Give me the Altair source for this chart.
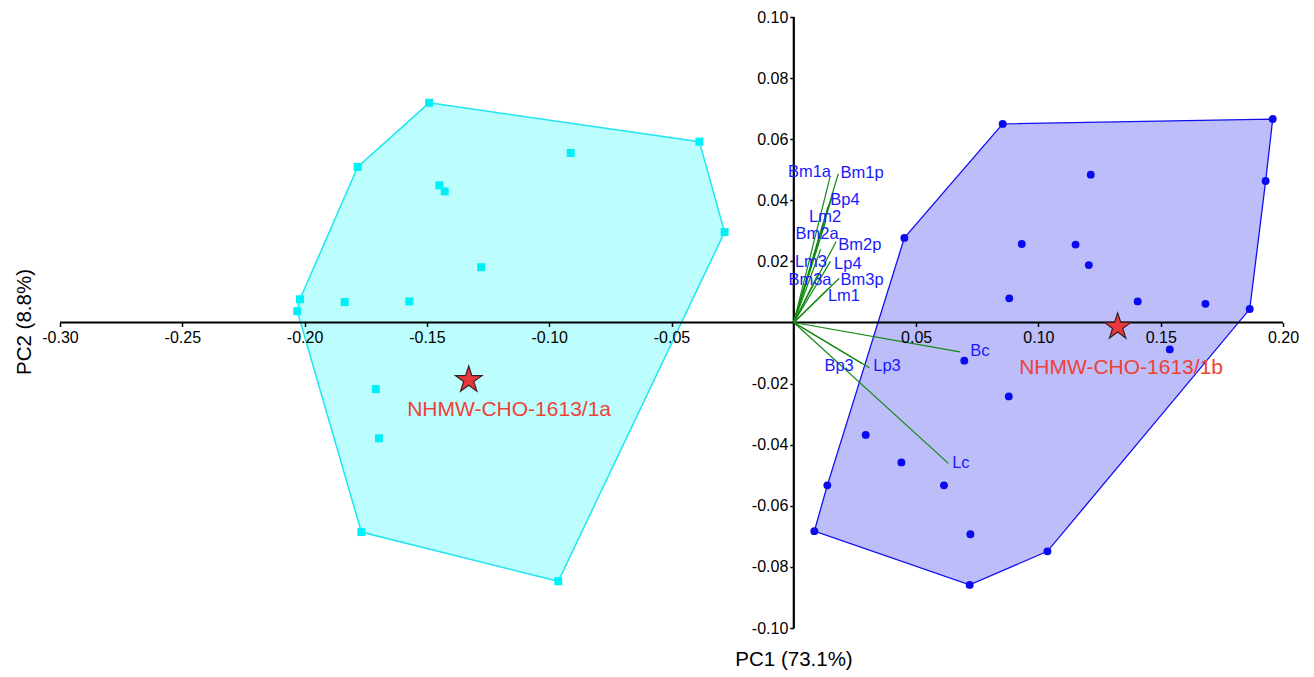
import altair as alt
import pandas as pd

FONT = "Liberation Sans"

# PCA scores, group a (cyan squares)
a_x = [-0.1491, -0.0386, -0.0912, -0.1783, -0.1449, -0.1427, -0.0283, -0.1278,
       -0.2019, -0.1836, -0.1572, -0.2030, -0.1709, -0.1696, -0.1768, -0.0963]
a_y = [0.0719, 0.0592, 0.0555, 0.0509, 0.0449, 0.0429, 0.0296, 0.0181,
       0.0076, 0.0067, 0.0069, 0.0037, -0.0218, -0.0379, -0.0686, -0.0847]
a_hull = [0, 1, 6, 15, 14, 11, 8, 3]

# PCA scores, group b (blue circles)
b_x = [0.0854, 0.1958, 0.1214, 0.1929, 0.0452, 0.0932, 0.1152, 0.1206, 0.0881,
       0.1406, 0.1683, 0.1864, 0.1537, 0.0697, 0.0879, 0.0294, 0.0440, 0.0614,
       0.0137, 0.0084, 0.0722, 0.1037, 0.0719]
b_y = [0.0650, 0.0666, 0.0484, 0.0463, 0.0277, 0.0257, 0.0255, 0.0188, 0.0079,
       0.0069, 0.0061, 0.0044, -0.0088, -0.0125, -0.0242, -0.0368, -0.0458, -0.0533,
       -0.0533, -0.0683, -0.0693, -0.0749, -0.0859]
b_hull = [0, 1, 3, 11, 21, 22, 19, 18, 4]

# specimens of interest
spec_names = ["NHMW-CHO-1613/1a", "NHMW-CHO-1613/1b"]
spec_x = [-0.1329, 0.1324]
spec_y = [-0.0188, -0.0014]
spec_label_x = [-0.1164, 0.1338]
spec_label_y = [-0.0286, -0.0149]

# variable loadings (biplot vectors)
var_names = ["Bm1a", "Bm1p", "Bp4", "Lm2", "Bm2a", "Bm2p", "Lm3", "Lp4",
             "Bm3a", "Bm3p", "Lm1", "Bc", "Lp3", "Bp3", "Lc"]
var_x = [0.0148, 0.0182, 0.0160, 0.0140, 0.0130, 0.0173, 0.0110, 0.0150,
         0.0100, 0.0186, 0.0140, 0.0679, 0.0309, 0.0280, 0.0632]
var_y = [0.0476, 0.0487, 0.0420, 0.0380, 0.0330, 0.0265, 0.0240, 0.0200,
         0.0160, 0.0145, 0.0110, -0.0096, -0.0148, -0.0135, -0.0461]
var_label_x = [0.0064, 0.0279, 0.0209, 0.0128, 0.0095, 0.0270, 0.0070, 0.0221,
               0.0066, 0.0279, 0.0205, 0.0761, 0.0381, 0.0185, 0.0683]
var_label_y = [0.0493, 0.0489, 0.0401, 0.0345, 0.0290, 0.0254, 0.0198, 0.0191,
               0.0139, 0.0139, 0.0087, -0.0093, -0.0142, -0.0142, -0.0460]

x_ticks = [-0.30, -0.25, -0.20, -0.15, -0.10, -0.05, 0.05, 0.10, 0.15, 0.20]
y_ticks = [-0.10, -0.08, -0.06, -0.04, -0.02, 0.02, 0.04, 0.06, 0.08, 0.10]

W, H = 1223, 611
X_DOM, Y_DOM = [-0.30, 0.20], [-0.10, 0.10]

label_expr = "(datum.value < 0 ? '-' : '') + format(abs(datum.value), '.2f')"
xs = alt.Scale(domain=X_DOM, nice=False, zero=False)
ys = alt.Scale(domain=Y_DOM, nice=False, zero=False)
x_axis = alt.Axis(values=x_ticks, orient="bottom", offset=-H * 0.5, domain=False,
                  grid=False, tickSize=4, tickWidth=1.5, tickColor="black",
                  labelExpr=label_expr, labelFont=FONT, labelFontSize=16,
                  labelColor="black", labelPadding=3, labelFlush=False,
                  labelOverlap=False, title="", zindex=1)
y_axis = alt.Axis(values=y_ticks, orient="left", offset=-W * 0.6, domain=False,
                  grid=False, tickSize=4, tickWidth=1.5, tickColor="black",
                  labelExpr=label_expr, labelFont=FONT, labelFontSize=16,
                  labelColor="black", labelPadding=2, labelFlush=False,
                  labelOverlap=False, title="", zindex=1)


def X(field):
    return alt.X(field, type="quantitative", scale=xs, axis=x_axis)


def Y(field):
    return alt.Y(field, type="quantitative", scale=ys, axis=y_axis)


def hull_frame(xv, yv, idx):
    return pd.DataFrame({"x": [xv[i] for i in idx], "y": [yv[i] for i in idx],
                         "k": list(range(len(idx)))})


hull_a = alt.Chart(hull_frame(a_x, a_y, a_hull)).mark_line(
    interpolate="linear-closed", fill="#bcfefe", stroke="#1fe6f0", strokeWidth=1.5
).encode(x=X("x"), y=Y("y"), order="k:Q")

hull_b = alt.Chart(hull_frame(b_x, b_y, b_hull)).mark_line(
    interpolate="linear-closed", fill="#bdbdfa", stroke="#1010f0", strokeWidth=1.3
).encode(x=X("x"), y=Y("y"), order="k:Q")

zero = pd.DataFrame({"v": [0.0]})
x_zero = alt.Chart(zero).mark_rule(color="black", strokeWidth=2.2).encode(y=Y("v"))
y_zero = alt.Chart(zero).mark_rule(color="black", strokeWidth=2.2).encode(x=X("v"))

loads = pd.DataFrame({"name": var_names, "x": var_x, "y": var_y,
                      "lx": var_label_x, "ly": var_label_y,
                      "o": [0.0] * len(var_names)})
vectors = alt.Chart(loads).mark_rule(color="#138a13", strokeWidth=1.2).encode(
    x=X("o"), y=Y("o"), x2="x:Q", y2="y:Q")
vector_labels = alt.Chart(loads).mark_text(
    font=FONT, fontSize=16.5, color="#1a1aff", align="center", baseline="middle"
).encode(x=X("lx"), y=Y("ly"), text="name:N")

pts_a = alt.Chart(pd.DataFrame({"x": a_x, "y": a_y})).mark_point(
    shape="square", filled=True, size=64, color="#00f0f8", opacity=1
).encode(x=X("x"), y=Y("y"))
pts_b = alt.Chart(pd.DataFrame({"x": b_x, "y": b_y})).mark_point(
    shape="circle", filled=True, size=62, color="#0a0af0", opacity=1
).encode(x=X("x"), y=Y("y"))

STAR = ("M0,-1 L0.225,-0.309 L0.951,-0.309 L0.363,0.118 L0.588,0.809 "
        "L0,0.382 L-0.588,0.809 L-0.363,0.118 L-0.951,-0.309 L-0.225,-0.309 Z")
spec = pd.DataFrame({"name": spec_names, "x": spec_x, "y": spec_y,
                     "lx": spec_label_x, "ly": spec_label_y})
stars = alt.Chart(spec).mark_point(
    shape=STAR, filled=True, size=780, fill="#e8383d", stroke="#3a2020",
    strokeWidth=1.2, opacity=1
).encode(x=X("x"), y=Y("y"))
star_labels = alt.Chart(spec).mark_text(
    font=FONT, fontSize=21, color="#ee4234", align="center", baseline="middle"
).encode(x=X("lx"), y=Y("ly"), text="name:N")

x_title = alt.Chart(pd.DataFrame({"t": ["PC1 (73.1%)"]})).mark_text(
    font=FONT, fontSize=20.5, color="black", align="center", baseline="middle"
).encode(x=alt.value(734), y=alt.value(643), text="t:N")
y_title = alt.Chart(pd.DataFrame({"t": ["PC2 (8.8%)"]})).mark_text(
    font=FONT, fontSize=20.5, color="black", align="center", baseline="middle", angle=270
).encode(x=alt.value(-35), y=alt.value(305), text="t:N")

chart = alt.layer(
    hull_a, hull_b, x_zero, y_zero, vectors, pts_a, pts_b, vector_labels,
    stars, star_labels, x_title, y_title
).properties(
    width=W, height=H,
    autosize=alt.AutoSizeParams(type="none"),
    padding={"left": 60, "top": 17, "right": 31, "bottom": 49},
    background="white",
).configure_view(stroke="transparent")

chart.save("out.html", embed_options={"renderer": "svg", "actions": False})
